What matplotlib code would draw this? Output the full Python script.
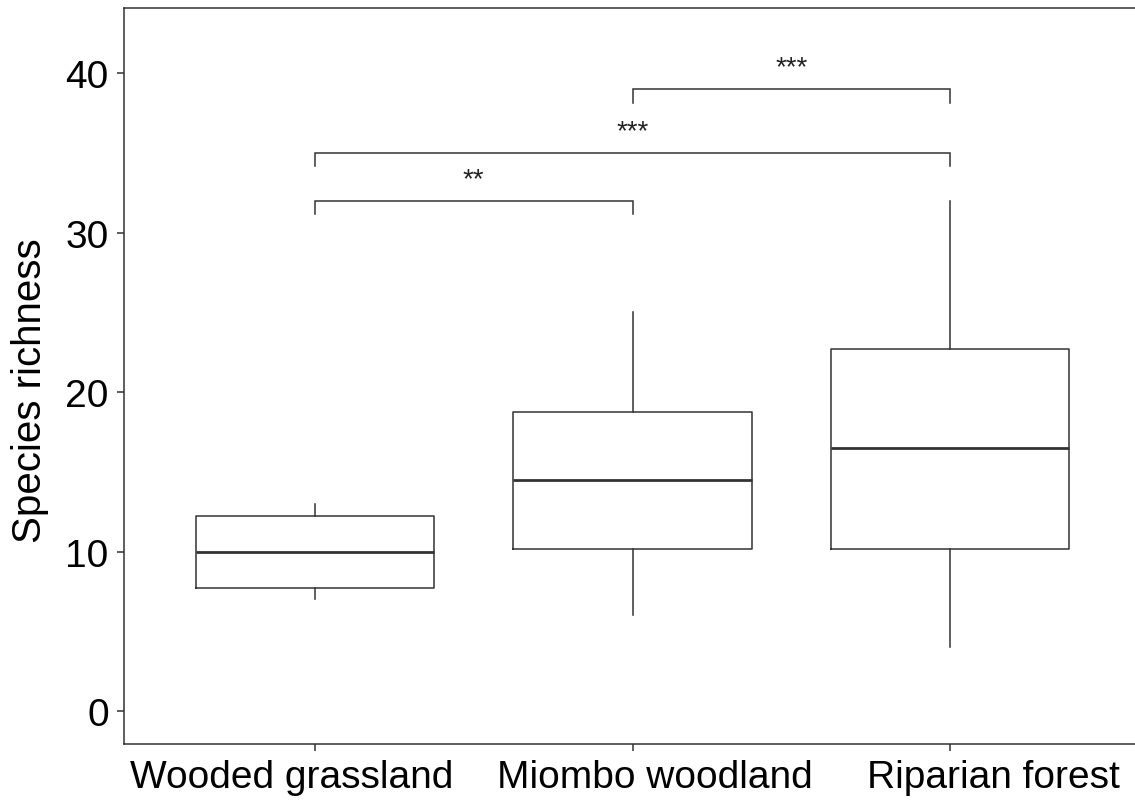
import matplotlib
matplotlib.use('Agg')
import matplotlib.pyplot as plt
from matplotlib.transforms import ScaledTranslation

plt.rcParams['font.family'] = ['Liberation Sans', 'DejaVu Sans']

# box statistics
groups = ['Wooded grassland', 'Miombo woodland', 'Riparian forest']
whislo = [7.0, 6.0, 4.0]
q1 = [7.7, 10.15, 10.15]
med = [10.0, 14.5, 16.5]
q3 = [12.2, 18.75, 22.7]
whishi = [13.0, 25.0, 32.0]

# significance brackets: (from group, to group, height, label)
sig_from = [1, 1, 2]
sig_to = [2, 3, 3]
sig_y = [32.0, 35.0, 39.0]
sig_label = ['**', '***', '***']

line_col = '#333333'

fig = plt.figure(figsize=(11.35, 8.03), dpi=100)
ax = fig.add_axes([124/1135, 1 - 745/803, 1017/1135, (745 - 9)/803])

stats = []
for i, g in enumerate(groups):
    stats.append(dict(label=g, whislo=whislo[i], q1=q1[i], med=med[i],
                      q3=q3[i], whishi=whishi[i], fliers=[]))

ax.bxp(stats, positions=[1, 2, 3], widths=0.75, showcaps=False,
       boxprops=dict(color=line_col, linewidth=1.1),
       whiskerprops=dict(color=line_col, linewidth=1.1),
       medianprops=dict(color=line_col, linewidth=2.0))

for a, b, y, lab in zip(sig_from, sig_to, sig_y, sig_label):
    drop = 0.85
    ax.plot([a, a, b, b], [y - drop, y, y, y - drop], color=line_col, lw=1.1,
            solid_joinstyle='miter')
    ax.text((a + b) / 2, y + 1.35, lab, ha='center', va='center',
            fontsize=20, color='#222222')

ax.set_xlim(0.4, 3.6)
ax.set_ylim(-2.07, 44.08)
ax.set_yticks([0, 10, 20, 30, 40])
ax.set_xticks([1, 2, 3])
ax.set_xticklabels(groups)
ax.set_ylabel('Species richness', fontsize=29, color='black')
ax.yaxis.set_label_coords(-0.074, 0.482)

ax.tick_params(axis='both', labelsize=28, colors=line_col, length=5,
               width=1.1, labelcolor='black')
ax.tick_params(axis='y', pad=6)
ax.tick_params(axis='x', pad=6)

# the x labels in the original sit a bit off their ticks
label_shift = [-23, 22, 43]
for lbl, dx in zip(ax.get_xticklabels(), label_shift):
    lbl.set_transform(lbl.get_transform() + ScaledTranslation(dx / 100, 0, fig.dpi_scale_trans))

ax.spines['right'].set_visible(False)
for s in ['left', 'top', 'bottom']:
    ax.spines[s].set_color(line_col)
    ax.spines[s].set_linewidth(1.1)

fig.savefig('out.png', dpi=100)
